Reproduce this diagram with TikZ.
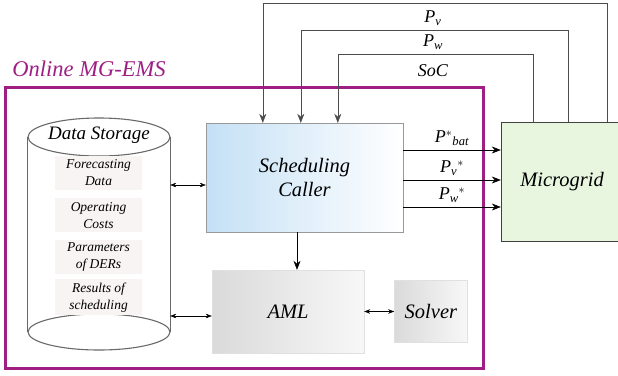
\documentclass[tikz,border=0pt]{standalone}
\usepackage{fontspec}
\setmainfont{Liberation Serif}
\usepackage{tikz}
\usetikzlibrary{arrows.meta, positioning, calc}
\definecolor{emspurple}{RGB}{158,30,132}
\definecolor{scblue}{RGB}{196,224,245}
\definecolor{amlgray}{RGB}{218,218,218}
\definecolor{mggreen}{RGB}{232,246,224}
\definecolor{dsfill}{RGB}{248,244,243}
\definecolor{cylgray}{RGB}{105,105,105}
\newcommand{\bigit}{\itshape\fontsize{20.5}{23.5}\selectfont}
\newcommand{\smit}{\itshape\fontsize{13.5}{17}\selectfont}

\begin{document}
\begin{tikzpicture}[x=1pt, y=-1pt,
    blk/.style={draw, inner sep=0pt, align=center, font=\bigit},
    dsitem/.style={fill=dsfill, minimum width=87pt, minimum height=34pt,
                   inner sep=0pt, align=center, font=\smit},
    arr/.style={-{Stealth[length=9pt, width=7pt]}, semithick},
    fb/.style={-{Stealth[length=9pt, width=7pt]}, draw=black!70},
    dbl/.style={{Stealth[length=6pt, width=4.5pt]}-{Stealth[length=6pt, width=4.5pt]}},
    lbl/.style={font=\fontsize{18}{20}\selectfont},
]
\useasboundingbox (0,0) rectangle (618,375);

% frame of the EMS
\draw[emspurple, line width=3pt] (5,87) rectangle (483,368);
\node[font=\itshape\fontsize{22.5}{25}\selectfont, text=emspurple] (title) at (89,69) {Online MG-EMS};

% data storage cylinder
\node[minimum width=142pt, minimum height=195pt, inner sep=0pt] (ds) at (99,235) {};
\draw[cylgray, line width=1.1pt, fill=white]
    (ds.north west |- 0,137) -- (ds.south west |- 0,332)
    (ds.north east |- 0,137) -- (ds.south east |- 0,332);
\draw[cylgray, line width=1.1pt] (99,137) ellipse [x radius=71pt, y radius=19pt];
\draw[cylgray, line width=1.1pt] (99,332) ellipse [x radius=71pt, y radius=18pt];
\node[font=\itshape\fontsize{19}{22}\selectfont] (dstitle) at (99,135) {Data Storage};

\node[dsitem] (d1) at (98.5,173) {Forecasting\\Data};
\node[dsitem, below=8pt of d1] (d2) {Operating\\Costs};
\node[dsitem, below=7pt of d2] (d3) {Parameters\\of DERs};
\node[dsitem, below=5pt of d3, minimum height=36pt] (d4) {Results of\\scheduling};

% blocks
\node[blk, draw=black!40, left color=scblue, right color=white,
      minimum width=197pt, minimum height=109pt] (sc) at (304.5,177.5) {Scheduling\\Caller};
\node[blk, draw=black!12, left color=amlgray, right color=white!97!black,
      minimum width=152pt, minimum height=83pt] (aml) at (288,311.5) {AML};
\node[blk, draw=black!12, left color=amlgray, right color=white!97!black,
      minimum width=73pt, minimum height=62pt, right=30pt of aml] (sol) {Solver};
\node[blk, draw=black!75, fill=mggreen,
      minimum width=122pt, minimum height=119pt] (mg) at (562,181.5) {Microgrid};

% links inside the EMS
\draw[dbl] ([yshift=-7.5pt]sc.west) -- ([yshift=-7.5pt]sc.west -| ds.east);
\draw[dbl] ([yshift=-4.5pt]aml.west) -- ([yshift=-4.5pt]aml.west -| ds.east);
\draw[arr] (sc.south -| 297,0) -- (aml.north -| 297,0);
\draw[dbl] (aml.east) -- (sol.west);

% set points to the microgrid
\foreach \s/\i/\t in {27.5/1/{$\mathit{P}^{*}{}_{\mathit{bat}}$},
                      -2.5/2/{$\mathit{P}_{\mathit{v}}{}^{*}$},
                      -29.5/3/{$\mathit{P}_{\mathit{w}}{}^{*}$}}{
  \coordinate (o\i) at ([yshift=\s pt]sc.east);
  \draw[arr] (o\i) -- node[lbl, above=1pt] {\t} (o\i -| mg.west);
}

% measurements back to the caller
\foreach \m/\h/\c in {32/68/132, 67/92/95, 106/119/57}{
  \draw[fb] ([xshift=\m pt]mg.north west) -- ++(0,-\h) -| ([xshift=\c pt]sc.north west);
}
\node[lbl] (lsoc) at (433,71) {\textit{SoC}};
\node[lbl] (lpw) at (433,42) {$\mathit{P}_{\mathit{w}}$};
\node[lbl] (lpv) at (433,18) {$\mathit{P}_{\mathit{v}}$};

\end{tikzpicture}
\end{document}
